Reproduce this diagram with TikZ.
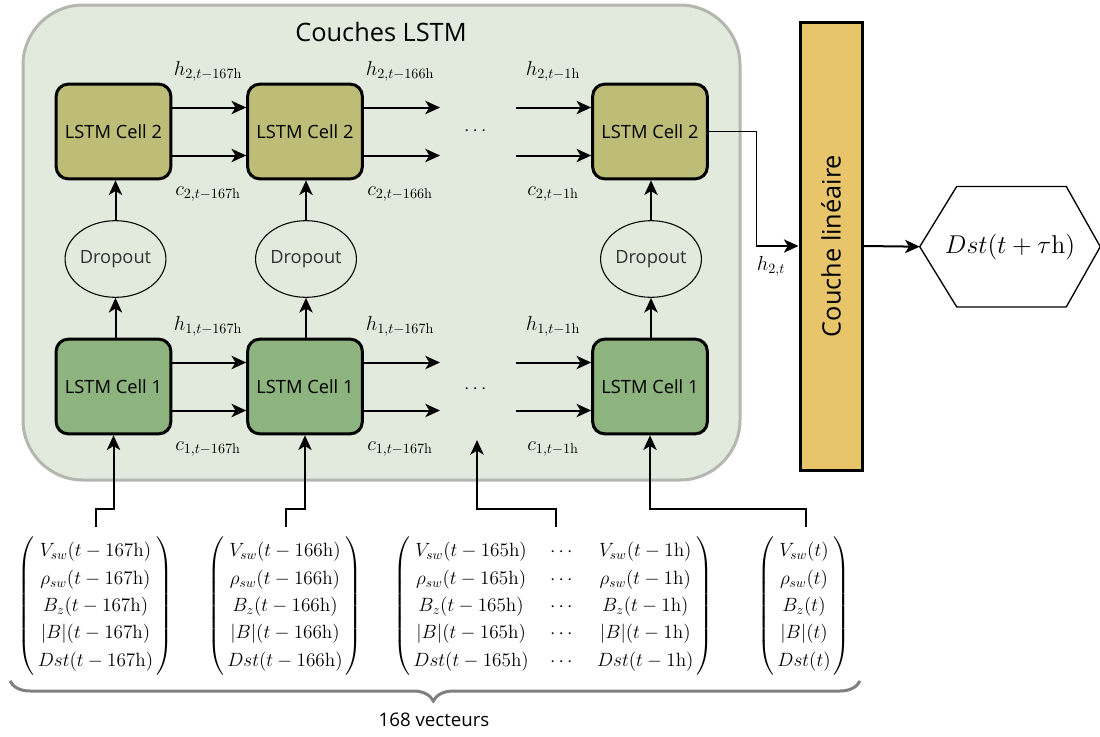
\documentclass[tikz,border=0pt]{standalone}
\usepackage{amsmath}
\usepackage{graphicx}
\usepackage{fontspec}
\newfontfamily\osans{Open Sans}
\usetikzlibrary{arrows.meta,shapes.geometric,decorations.pathreplacing,calc}
\definecolor{bgfill}{HTML}{E1EADD}
\definecolor{bgdraw}{HTML}{B3B7AF}
\definecolor{celltwo}{HTML}{BDBD78}
\definecolor{cellone}{HTML}{8DB37F}
\definecolor{linfill}{HTML}{E8C56B}
\definecolor{bracecol}{HTML}{808080}
\definecolor{droptext}{HTML}{333333}
\newcommand{\vecwrap}[1]{$\renewcommand{\arraystretch}{1.17}\left(\,\begin{matrix}#1\end{matrix}\,\right)$}
\tikzset{
  arr/.style={-{Stealth[length=11pt,width=10pt,inset=3pt]}, line width=1.5pt},
  thinarr/.style={-{Stealth[length=11pt,width=10pt,inset=3pt]}, line width=0.8pt},
  cellbox/.style={rectangle, rounded corners=9pt, draw, line width=2.25pt,
    minimum width=86pt, minimum height=71pt, inner sep=0pt,
    font=\osans\fontsize{13.7}{16}\selectfont},
  celltwostyle/.style={cellbox, fill=celltwo},
  cellonestyle/.style={cellbox, fill=cellone},
  dropstyle/.style={ellipse, draw, line width=0.8pt,
    minimum width=69pt, minimum height=57.5pt, inner sep=0pt, text=droptext,
    font=\osans\fontsize{13.7}{16}\selectfont},
  lbl/.style={inner sep=0pt, font=\fontsize{14.4}{17}\selectfont},
  vec/.style={inner sep=0pt, font=\fontsize{14.4}{17.5}\selectfont},
}
\begin{document}
\begin{tikzpicture}[x=0.75pt,y=-0.75pt]
\useasboundingbox (0,0) rectangle (1100,736);
% background
\draw[fill=bgfill, draw=bgdraw, line width=2.25pt, rounded corners=45pt] (23,5) rectangle (740,480);
\node[font=\osans\fontsize{19}{23}\selectfont] (title) at (381,32) {Couches LSTM};
% cells
\node[celltwostyle] (c2a) at (113.5,131.5) {LSTM Cell 2};
\node[celltwostyle] (c2b) at (305,131.5) {LSTM Cell 2};
\node[celltwostyle] (c2c) at (650,131.5) {LSTM Cell 2};
\node[cellonestyle] (c1a) at (113.5,386.5) {LSTM Cell 1};
\node[cellonestyle] (c1b) at (305,386.5) {LSTM Cell 1};
\node[cellonestyle] (c1c) at (650,386.5) {LSTM Cell 1};
% dropout
\node[dropstyle] (da) at (115.5,259) {Dropout};
\node[dropstyle] (db) at (306,259) {Dropout};
\node[dropstyle] (dc) at (651,259) {Dropout};
\draw[arr] (c1a.north -| da.south) -- (da.south);
\draw[arr] (c1b.north -| db.south) -- (db.south);
\draw[arr] (c1c.north -| dc.south) -- (dc.south);
\draw[arr] (da.north) -- (da.north |- c2a.south);
\draw[arr] (db.north) -- (db.north |- c2b.south);
\draw[arr] (dc.north) -- (dc.north |- c2c.south);
% dots
\node[lbl] (dots2) at (477,131.5) {$\cdots$};
\node[lbl] (dots1) at (477,389) {$\cdots$};
% free coordinates
\coordinate (e2h) at (440,107.5);
\coordinate (e2c) at (440,155.5);
\coordinate (s2h) at (516,107.5);
\coordinate (s2c) at (516,155.5);
\coordinate (e1h) at (440,362.5);
\coordinate (e1c) at (440,410.5);
\coordinate (s1h) at (516,362.5);
\coordinate (s1c) at (516,410.5);
% layer 2 horizontal
\draw[arr] ($(c2a.east)+(0,-24)$) -- ($(c2b.west)+(0,-24)$);
\draw[arr] ($(c2a.east)+(0,24)$) -- ($(c2b.west)+(0,24)$);
\draw[arr] ($(c2b.east)+(0,-24)$) -- (e2h);
\draw[arr] ($(c2b.east)+(0,24)$) -- (e2c);
\draw[arr] (s2h) -- ($(c2c.west)+(0,-24)$);
\draw[arr] (s2c) -- ($(c2c.west)+(0,24)$);
% layer 1 horizontal
\draw[arr] ($(c1a.east)+(0,-24)$) -- ($(c1b.west)+(0,-24)$);
\draw[arr] ($(c1a.east)+(0,24)$) -- ($(c1b.west)+(0,24)$);
\draw[arr] ($(c1b.east)+(0,-24)$) -- (e1h);
\draw[arr] ($(c1b.east)+(0,24)$) -- (e1c);
\draw[arr] (s1h) -- ($(c1c.west)+(0,-24)$);
\draw[arr] (s1c) -- ($(c1c.west)+(0,24)$);
% labels
\node[lbl] (lh2a) at (208,71) {\scalebox{1.06}{$h_{2,t-167\mathrm{h}}$}};
\node[lbl] (lh2b) at (400,71) {\scalebox{1.06}{$h_{2,t-166\mathrm{h}}$}};
\node[lbl] (lh2c) at (553,71) {\scalebox{1.06}{$h_{2,t-1\mathrm{h}}$}};
\node[lbl] (lc2a) at (208,194) {\scalebox{1.06}{$c_{2,t-167\mathrm{h}}$}};
\node[lbl] (lc2b) at (400,194) {\scalebox{1.06}{$c_{2,t-166\mathrm{h}}$}};
\node[lbl] (lc2c) at (553,194) {\scalebox{1.06}{$c_{2,t-1\mathrm{h}}$}};
\node[lbl] (lh1a) at (208,326) {\scalebox{1.06}{$h_{1,t-167\mathrm{h}}$}};
\node[lbl] (lh1b) at (400,326) {\scalebox{1.06}{$h_{1,t-167\mathrm{h}}$}};
\node[lbl] (lh1c) at (553,326) {\scalebox{1.06}{$h_{1,t-1\mathrm{h}}$}};
\node[lbl] (lc1a) at (208,449) {\scalebox{1.06}{$c_{1,t-167\mathrm{h}}$}};
\node[lbl] (lc1b) at (400,449) {\scalebox{1.06}{$c_{1,t-167\mathrm{h}}$}};
\node[lbl] (lc1c) at (553,449) {\scalebox{1.06}{$c_{1,t-1\mathrm{h}}$}};
% linear layer
\node[rectangle, draw, line width=2.25pt, fill=linfill, minimum width=46.5pt, minimum height=336pt, inner sep=0pt,
  font=\osans\fontsize{19}{23}\selectfont] (lin) at (831,246) {\rotatebox{90}{Couche linéaire}};
\draw[thinarr] (c2c.east) -- ++(48,0) |- (lin.west);
\node[lbl] (lh2t) at (771,266) {\scalebox{1.06}{$h_{2,t}$}};
% output hexagon
\node[minimum width=135pt, minimum height=90pt, inner sep=0pt, font=\fontsize{14.4}{17}\selectfont] (out) at (1010,246.7) {\scalebox{1.34}{$Dst(t+\tau\mathrm{h})$}};
\draw[line width=1pt, line join=miter] (out.west) -- ($(out.north west)+(37,0)$) -- ($(out.north east)+(-34,0)$) -- (out.east)
  -- ($(out.south east)+(-34,0)$) -- ($(out.south west)+(37,0)$) -- cycle;
\draw[arr] (lin.east) -- (out.west);
% vectors
\node[vec] (m1) at (95.5,606) {\vecwrap{V_{sw}(t-167\mathrm{h})\\ \rho_{sw}(t-167\mathrm{h})\\ B_z(t-167\mathrm{h})\\ |B|(t-167\mathrm{h})\\ Dst(t-167\mathrm{h})}};
\node[vec] (m2) at (285,606) {\vecwrap{V_{sw}(t-166\mathrm{h})\\ \rho_{sw}(t-166\mathrm{h})\\ B_z(t-166\mathrm{h})\\ |B|(t-166\mathrm{h})\\ Dst(t-166\mathrm{h})}};
\node[vec] (m3) at (553.5,606) {\setlength\arraycolsep{8pt}\vecwrap{V_{sw}(t-165\mathrm{h}) & \cdots & V_{sw}(t-1\mathrm{h})\\ \rho_{sw}(t-165\mathrm{h}) & \cdots & \rho_{sw}(t-1\mathrm{h})\\ B_z(t-165\mathrm{h}) & \cdots & B_z(t-1\mathrm{h})\\ |B|(t-165\mathrm{h}) & \cdots & |B|(t-1\mathrm{h})\\ Dst(t-165\mathrm{h}) & \cdots & Dst(t-1\mathrm{h})}};
\node[vec] (m4) at (804,606) {\vecwrap{V_{sw}(t)\\ \rho_{sw}(t)\\ B_z(t)\\ |B|(t)\\ Dst(t)}};
% inputs
\coordinate (in1) at (96,527);
\coordinate (in2) at (285.5,527);
\coordinate (in3) at (555.5,527);
\coordinate (in4) at (805.5,527);
\coordinate (dotsin) at (477,440);
\draw[arr] (in1) -- ++(0,-18) -| (c1a.south);
\draw[arr] (in2) -- ++(0,-18) -| (c1b.south);
\draw[arr] (in3) -- ++(0,-18) -| (dotsin);
\draw[arr] (in4) -- ++(0,-18) -| (c1c.south);
% brace
\coordinate (bl) at (10,681);
\coordinate (br) at (860,681);
\draw[draw=bracecol, line width=2.25pt, decorate, decoration={brace, mirror, amplitude=15pt, aspect=0.498}] (bl) -- (br);
\node[font=\osans\fontsize{14}{17}\selectfont] (count) at (434,720) {168 vecteurs};
\end{tikzpicture}
\end{document}
